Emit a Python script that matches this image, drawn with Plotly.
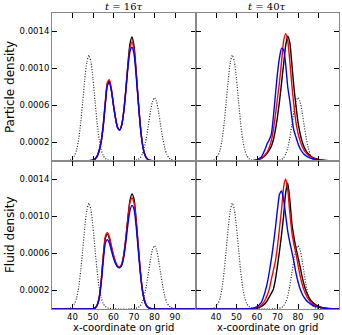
import numpy as np
import plotly.graph_objects as go
from plotly.subplots import make_subplots

SCALE = 1e-6  # values below are in units of 1e-6

# initial (gray dotted) density, same in every panel
gray_x = [30, 34, 36, 38, 39, 40, 41, 42, 43, 44, 45, 46, 47, 48, 49, 50, 51, 52, 53, 54, 55, 56, 57, 58, 60,
          63, 66, 68, 70, 71, 72, 73, 74, 75, 76, 77, 78, 79, 80, 81, 82, 83, 84, 85, 86, 87, 88, 89, 90, 92, 95, 100]
gray_y = [0, 1, 2, 7, 14, 28, 58, 120, 235, 415, 645, 885, 1070, 1143, 1070, 885, 645, 415, 235, 120, 58, 28, 14, 7, 2,
          0, 0, 1, 4, 8, 17, 35, 72, 141, 249, 386, 531, 642, 685, 642, 531, 386, 249, 141, 72, 35, 17, 8, 4, 1, 0, 0]

# t = 16 tau grid
x16 = [30, 44, 46, 48, 50, 51, 52, 53, 54, 55, 56, 57, 58, 59, 60, 61, 62, 63, 64, 65, 66, 67, 68, 69, 70,
       71, 72, 73, 74, 75, 76, 77, 78, 80, 84, 100]
# t = 40 tau grid
x40 = [30, 56, 58, 60, 62, 63, 64, 65, 66, 67, 68, 69, 70, 71, 72, 73, 74, 75, 76, 77, 78, 79, 80, 81, 82,
       83, 84, 85, 86, 87, 88, 90, 92, 95, 100]

# Particle density, t = 16 tau
part16_black = [0, 0, 1, 3, 10, 22, 50, 110, 210, 380, 620, 830, 865, 760, 600, 460, 360, 335, 390, 540, 770, 1040, 1260, 1340, 1245,
                990, 680, 400, 200, 86, 34, 12, 5, 1, 0, 0]
part16_red = [0, 0, 1, 3, 10, 22, 52, 115, 220, 395, 640, 850, 880, 775, 610, 465, 362, 336, 388, 535, 760, 1020, 1220, 1287, 1210,
              970, 670, 400, 200, 88, 35, 13, 5, 1, 0, 0]
part16_blue = [0, 0, 1, 3, 10, 22, 50, 110, 210, 380, 615, 815, 850, 755, 600, 460, 360, 334, 388, 530, 750, 1000, 1180, 1230, 1160,
               940, 660, 395, 200, 90, 36, 14, 5, 1, 0, 0]

# Particle density, t = 40 tau
part40_black = [0, 0, 3, 10, 25, 40, 60, 85, 120, 160, 230, 340, 480, 650, 850, 1050, 1250, 1348, 1280, 1050, 800, 600, 420, 300, 210,
                150, 108, 78, 56, 40, 30, 18, 10, 4, 0]
part40_red = [0, 0, 3, 12, 30, 45, 70, 100, 150, 220, 340, 500, 680, 860, 1080, 1300, 1377, 1300, 1080, 820, 600, 420, 300, 220, 160,
              115, 85, 62, 46, 34, 25, 15, 8, 3, 0]
part40_blue = [0, 0, 4, 15, 40, 80, 130, 190, 230, 290, 480, 720, 950, 1120, 1220, 1200, 1040, 800, 650, 470, 330, 260, 190, 135, 98,
               72, 54, 41, 31, 24, 18, 12, 7, 3, 0]

# Fluid density, t = 16 tau
fluid16_black = [0, 0, 0, 1, 3, 10, 40, 120, 300, 560, 760, 810, 760, 660, 570, 500, 460, 450, 480, 580, 760, 980, 1170, 1245, 1190,
                 980, 700, 430, 220, 100, 40, 15, 5, 1, 0, 0]
fluid16_red = [0, 0, 0, 1, 3, 11, 42, 125, 310, 575, 785, 824, 780, 680, 585, 510, 465, 452, 485, 585, 760, 970, 1150, 1200, 1150,
               965, 700, 440, 230, 108, 45, 17, 6, 1, 0, 0]
fluid16_blue = [0, 0, 0, 1, 3, 10, 38, 110, 280, 520, 710, 750, 712, 630, 550, 490, 455, 445, 470, 560, 720, 910, 1060, 1120, 1080,
                905, 660, 410, 215, 98, 40, 15, 5, 1, 0, 0]

# Fluid density, t = 40 tau
fluid40_black = [0, 0, 3, 10, 25, 40, 60, 90, 130, 170, 215, 320, 470, 630, 810, 1010, 1260, 1364, 1180, 930, 780, 660, 560, 460, 350,
                 260, 190, 140, 100, 75, 55, 30, 15, 5, 0]
fluid40_red = [0, 0, 4, 15, 40, 65, 100, 150, 215, 320, 420, 520, 680, 880, 1080, 1320, 1405, 1290, 1040, 830, 700, 600, 480, 360, 270,
               200, 150, 110, 80, 58, 42, 22, 11, 4, 0]
fluid40_blue = [0, 2, 8, 25, 70, 120, 190, 280, 400, 540, 700, 880, 1080, 1240, 1275, 1180, 1010, 840, 720, 620, 510, 390, 295, 220, 165,
                125, 95, 72, 55, 42, 32, 20, 11, 4, 0]

col_titles = ["<i>t</i> = 16<i>τ</i>", "<i>t</i> = 40<i>τ</i>"]
row_titles = ["Particle density", "Fluid density"]
x_title = "x-coordinate on grid"
x_ticks = [40, 50, 60, 70, 80, 90]
y_ticks = [0.0002, 0.0006, 0.0010, 0.0014]
y_ticklabels = ["0.0002", "0.0006", "0.0010", "0.0014"]

panels = {
    (1, 1): (x16, part16_black, part16_red, part16_blue),
    (1, 2): (x40, part40_black, part40_red, part40_blue),
    (2, 1): (x16, fluid16_black, fluid16_red, fluid16_blue),
    (2, 2): (x40, fluid40_black, fluid40_red, fluid40_blue),
}

fig = make_subplots(rows=2, cols=2, horizontal_spacing=0, vertical_spacing=0)

for (r, c), (xs, yb, yr, yblue) in panels.items():
    fig.add_trace(go.Scatter(x=gray_x, y=np.array(gray_y) * SCALE, mode="lines",
                             line=dict(color="#2a2a2a", width=1.2, dash="1px,1.6px", shape="spline", smoothing=0.6),
                             showlegend=False, hoverinfo="skip"), row=r, col=c)
    for ys, colr in ((yb, "black"), (yr, "#ff0000"), (yblue, "#0000ff")):
        fig.add_trace(go.Scatter(x=xs, y=np.array(ys) * SCALE, mode="lines",
                                 line=dict(color=colr, width=1.4, shape="spline", smoothing=0.6),
                                 showlegend=False), row=r, col=c)

tickfont = dict(family="DejaVu Sans", size=8.5, color="black")
for r in (1, 2):
    for c in (1, 2):
        fig.update_xaxes(range=[30, 100], tickvals=x_ticks, ticks="inside", ticklen=5, tickwidth=1.2,
                         tickcolor="black", showline=True, linecolor="#888888", linewidth=1, mirror="ticks",
                         showgrid=False, zeroline=False, tickfont=tickfont,
                         showticklabels=(r == 2), row=r, col=c)
        fig.update_yaxes(range=[0, 0.0016], tickvals=y_ticks, ticktext=y_ticklabels, ticks="inside", ticklen=5,
                         tickwidth=1.2, tickcolor="black", showline=True, linecolor="#888888", linewidth=1,
                         mirror="ticks", showgrid=False, zeroline=False, tickfont=tickfont,
                         showticklabels=(c == 1), row=r, col=c)

annotations = []
for i, t in enumerate(col_titles):
    annotations.append(dict(text=t, x=0.25 + 0.5 * i, y=1.0, xref="paper", yref="paper", xanchor="center",
                            yanchor="bottom", yshift=-1, showarrow=False,
                            font=dict(family="DejaVu Serif", size=10, color="black")))
for i, t in enumerate(row_titles):
    annotations.append(dict(text=t, x=-0.146, y=0.75 - 0.5 * i, xref="paper", yref="paper", xanchor="center",
                            yanchor="middle", textangle=-90, showarrow=False,
                            font=dict(family="DejaVu Sans", size=12, color="black")))
for i in range(2):
    annotations.append(dict(text=x_title, x=0.25 + 0.5 * i, y=-0.061, xref="paper", yref="paper", xanchor="center",
                            yanchor="middle", showarrow=False,
                            font=dict(family="DejaVu Sans", size=10, color="black")))

fig.update_layout(width=342, height=335, margin=dict(l=52, r=3, t=13, b=26),
                  paper_bgcolor="white", plot_bgcolor="white", annotations=annotations)

fig.write_html("out.html", config={"displayModeBar": False},
               post_script="document.body.style.margin='0';document.body.style.padding='0';")
